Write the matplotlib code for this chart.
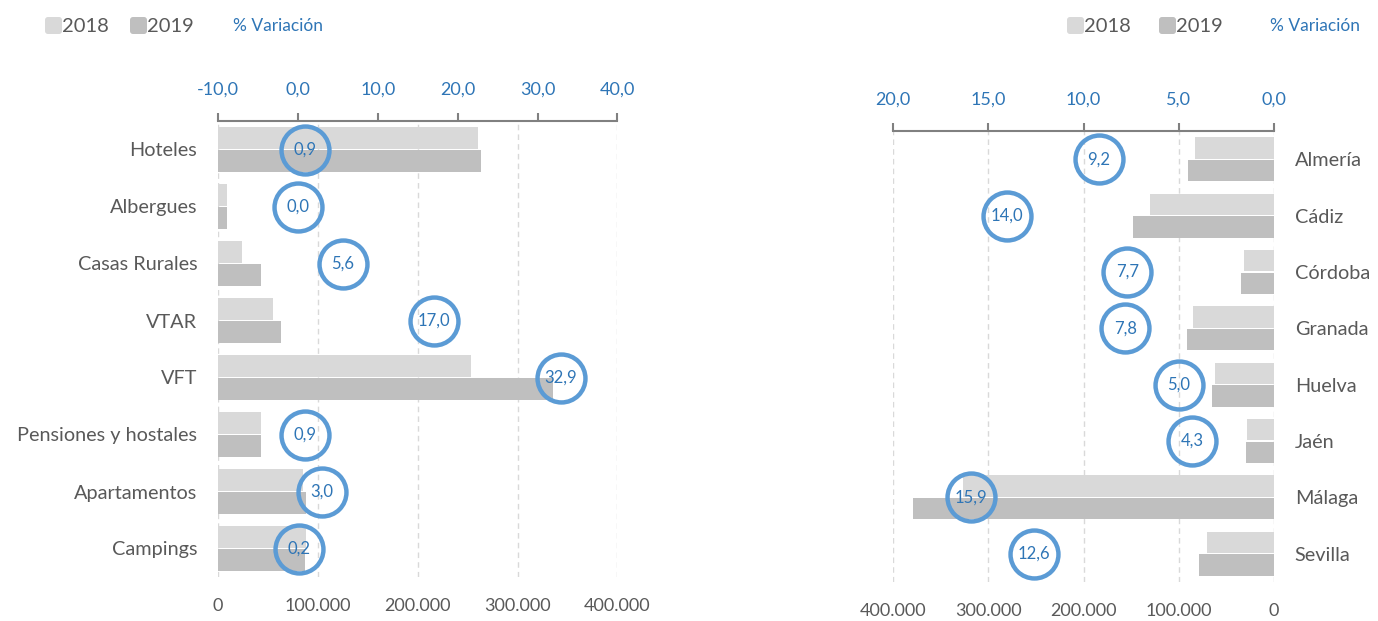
import matplotlib
matplotlib.use("Agg")
import matplotlib.pyplot as plt
from matplotlib.patches import FancyBboxPatch
from matplotlib.ticker import FuncFormatter, MultipleLocator
import numpy as np

plt.rcParams['font.family'] = ['Lato', 'DejaVu Sans']

# Datos
cat_tipo = ["Hoteles", "Albergues", "Casas Rurales", "VTAR", "VFT",
            "Pensiones y hostales", "Apartamentos", "Campings"]
tipo_2018 = [260300, 9300, 23700, 54800, 253300, 42800, 85500, 88200]
tipo_2019 = [263000, 9300, 42800, 62800, 335500, 43100, 87900, 87500]
tipo_var = [0.9, 0.0, 5.6, 17.0, 32.9, 0.9, 3.0, 0.2]

cat_prov = ["Almería", "Cádiz", "Córdoba", "Granada", "Huelva", "Jaén",
            "Málaga", "Sevilla"]
prov_2018 = [83000, 130300, 32000, 84800, 62300, 28400, 326700, 70400]
prov_2019 = [90300, 148100, 34500, 91300, 65400, 29400, 379200, 78800]
prov_var = [9.2, 14.0, 7.7, 7.8, 5.0, 4.3, 15.9, 12.6]

c18 = "#d9d9d9"
c19 = "#bfbfbf"
gris = "#595959"
azul_txt = "#2e75b6"
azul = "#5b9bd5"
fs = 13


def miles(x, pos):
    return f"{int(round(x)):,}".replace(",", ".")


def coma(x, pos):
    return f"{x:.1f}".replace(".", ",")


def panel(rect, cats, v18, v19, var, pmax, derecha=False):
    ax = fig.add_axes(rect)
    y = np.arange(len(cats))
    ax.barh(y - 0.2, v18, height=0.38, color=c18, zorder=2)
    ax.barh(y + 0.2, v19, height=0.38, color=c19, zorder=2)
    ax.set_ylim(len(cats) - 0.5, -0.5)
    ax.set_yticks(y)
    ax.set_yticklabels(cats)
    ax.set_xticks(np.arange(0, 400001, 100000))
    ax.xaxis.set_major_formatter(FuncFormatter(miles))
    if derecha:
        ax.set_xlim(400000, 0)
        ax.yaxis.tick_right()
    else:
        ax.set_xlim(0, 400000)
    ax.tick_params(axis="both", length=0, labelsize=fs, labelcolor=gris)
    ax.tick_params(axis="x", pad=15)
    ax.tick_params(axis="y", pad=15, labelsize=14.3)
    ax.grid(axis="x", color="#d9d9d9", linestyle=(0, (4, 3)), linewidth=1, zorder=0)
    ax.set_axisbelow(True)
    for s in ax.spines.values():
        s.set_visible(False)

    ax2 = ax.twiny()
    if derecha:
        ax2.set_xlim(pmax, 0)
        ax2.xaxis.set_major_locator(MultipleLocator(5))
    else:
        ax2.set_xlim(-10, pmax)
        ax2.xaxis.set_major_locator(MultipleLocator(10))
    ax2.xaxis.set_major_formatter(FuncFormatter(coma))
    ax2.tick_params(axis="x", length=6, width=1.5, color="#808080",
                    labelsize=fs, labelcolor=azul_txt, pad=11)
    for k, s in ax2.spines.items():
        s.set_visible(k == "top")
    ax2.spines["top"].set_color("#808080")
    ax2.spines["top"].set_linewidth(1.5)
    ax2.plot(var, y, "o", ms=34.5, mfc="none", mec=azul, mew=3.2, zorder=4,
             clip_on=False)
    for v, yy in zip(var, y):
        ax2.text(v, yy, coma(v, None), ha="center", va="center",
                 color=azul_txt, fontsize=12, zorder=5)
    return ax


fig = plt.figure(figsize=(13.78, 6.21), dpi=100)

panel([218 / 1378, 44 / 621, 399.5 / 1378, 456 / 621],
      cat_tipo, tipo_2018, tipo_2019, tipo_var, 40)
panel([893 / 1378, 39 / 621, 381 / 1378, 451 / 621],
      cat_prov, prov_2018, prov_2019, prov_var, 20, derecha=True)


# Leyendas
def leyenda(x18, x19, xvar):
    for xs, col in ((x18, c18), (x19, c19)):
        fig.patches.append(FancyBboxPatch(
            (xs / 100, (621 - 34) / 100), 0.17, 0.17,
            boxstyle="round,pad=0,rounding_size=0.03",
            transform=fig.dpi_scale_trans, facecolor=col, edgecolor="none"))
    yt = 1 - 26 / 621
    fig.text((x18 + 17) / 1378, yt, "2018", color=gris, fontsize=14.5, va="center")
    fig.text((x19 + 17) / 1378, yt, "2019", color=gris, fontsize=14.5, va="center")
    fig.text(xvar / 1378, yt, "% Variación", color=azul_txt, fontsize=fs - 0.5,
             va="center")


leyenda(45, 130, 233)
leyenda(1067, 1159, 1270)

fig.savefig("out.png", dpi=100)
